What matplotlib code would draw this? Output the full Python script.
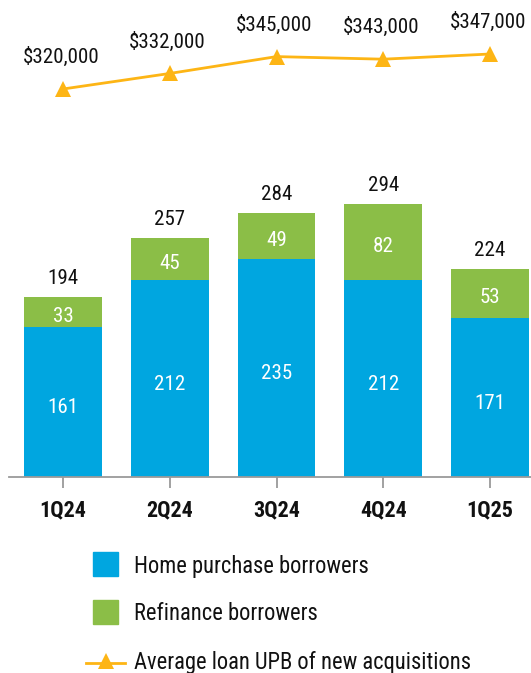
import matplotlib
matplotlib.use("Agg")
import matplotlib.pyplot as plt
from matplotlib.patches import Rectangle
from matplotlib.lines import Line2D
from matplotlib import font_manager as fm
from matplotlib.font_manager import FontProperties

quarters = ["1Q24", "2Q24", "3Q24", "4Q24", "1Q25"]
home_purchase = [161, 212, 235, 212, 171]
refinance = [33, 45, 49, 82, 53]
totals = [194, 257, 284, 294, 224]
avg_upb = [320000, 332000, 345000, 343000, 347000]
avg_upb_labels = ["$320,000", "$332,000", "$345,000", "$343,000", "$347,000"]
legend_labels = ["Home purchase borrowers", "Refinance borrowers",
                 "Average loan UPB of new acquisitions"]

BLUE = "#00A6E0"
GREEN = "#8BBE47"
ORANGE = "#FDB515"
TXT = "#111111"

names = {f.name for f in fm.fontManager.ttflist}
prefs = ["Liberation Sans Narrow", "Arial Narrow", "Roboto Condensed",
         "Archivo Narrow", "Barlow Semi Condensed", "DejaVu Sans"]
FAM = [n for n in prefs if n in names][0]
plt.rcParams['font.family'] = [FAM, "DejaVu Sans"]

W, H = 531, 673
fig = plt.figure(figsize=(W / 100, H / 100), dpi=100)
renderer = fig.canvas.get_renderer()

def fit_size(s, target_px, weight="normal"):
    fp = FontProperties(family=[FAM], size=20, weight=weight)
    w, h, d = renderer.get_text_width_height_descent(s, fp, ismath=False)
    return 20 * target_px / w

FS_NUM = fit_size("$320,000", 77)
FS_CAT = fit_size("1Q24", 47, "bold")
FS_LEG = fit_size("Home purchase borrowers", 234)

def px_axes(x0, y0, x1, y1):
    return fig.add_axes([x0 / W, 1 - y1 / H, (x1 - x0) / W, (y1 - y0) / H])

base_y = 477
ppu = 0.929
ymax = 320
ax = px_axes(9, base_y - ymax * ppu, 531, base_y)
ax.set_ylim(0, ymax)
ax.set_xlim(-0.506, 4.384)
x = list(range(len(quarters)))
bw = 0.73
ax.bar(x, home_purchase, width=bw, color=BLUE, zorder=2)
ax.bar(x, refinance, width=bw, bottom=home_purchase, color=GREEN, zorder=2)
for i in x:
    ax.annotate(str(home_purchase[i]), (i, home_purchase[i] / 2), xytext=(0, -4),
                textcoords="offset points", ha="center", va="center",
                color="white", fontsize=FS_NUM)
    ax.annotate(str(refinance[i]), (i, home_purchase[i] + refinance[i] / 2),
                xytext=(0, -3), textcoords="offset points", ha="center",
                va="center", color="white", fontsize=FS_NUM)
    ax.annotate(str(totals[i]), (i, totals[i]), xytext=(0, 13.5),
                textcoords="offset points", ha="center", va="center",
                color=TXT, fontsize=FS_NUM)
for s in ["top", "right", "left"]:
    ax.spines[s].set_visible(False)
ax.spines["bottom"].set_color("#9a9a9a")
ax.spines["bottom"].set_linewidth(1.3)
ax.set_yticks([])
ax.set_xticks(x)
ax.set_xticklabels(quarters, fontsize=FS_CAT, fontweight="bold", color=TXT)
ax.tick_params(axis="x", length=8, width=1.3, color="#9a9a9a", pad=8)
ax.patch.set_alpha(0)

m0_px, ppk = 89, 1.296
ly0, ly1 = 10, 130
lax = px_axes(9, ly0, 531, ly1)
lax.set_xlim(-0.506, 4.384)
lax.set_ylim(320000 - (ly1 - m0_px) / ppk * 1000, 320000 + (m0_px - ly0) / ppk * 1000)
lax.plot(x, avg_upb, color=ORANGE, lw=2, marker="^", markersize=11,
         markeredgewidth=0, zorder=3)
for i in x:
    lax.annotate(avg_upb_labels[i], (i, avg_upb[i]), xytext=(-1.5, 23),
                 textcoords="offset points", ha="center", va="center",
                 color=TXT, fontsize=FS_NUM)
lax.axis("off")

leg = fig.add_axes([0, 0, 1, 1])
leg.set_xlim(0, W)
leg.set_ylim(H, 0)
leg.axis("off")
leg.add_patch(Rectangle((93, 552), 25, 24, color=BLUE))
leg.add_patch(Rectangle((93, 600), 25, 24, color=GREEN))
leg.add_line(Line2D([86, 125], [663, 663], color=ORANGE, lw=2))
leg.plot([105.5], [661], marker="^", color=ORANGE, markersize=11, markeredgewidth=0)
for yy, lab in zip([566, 613, 662], legend_labels):
    leg.text(134, yy, lab, fontsize=FS_LEG, color=TXT, va="center", ha="left")

fig.savefig("out.png", dpi=100)
